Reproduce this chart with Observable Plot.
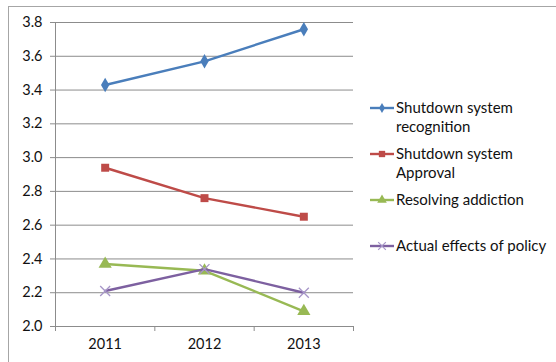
<!DOCTYPE html>
<html>
<head>
<meta charset="utf-8">
<script src="https://cdn.jsdelivr.net/npm/d3@7"></script>
<script src="https://cdn.jsdelivr.net/npm/@observablehq/plot@0.6"></script>
<style>
  html, body { margin: 0; padding: 0; background: #fff; }
  #wrap { position: relative; width: 556px; height: 362px; overflow: hidden; font-family: Lato, "Liberation Sans", sans-serif; }
  #frame { position: absolute; left: 8px; top: 6px; width: 560px; height: 400px; border-left: 1px solid #a6a6a6; border-top: 1px solid #a6a6a6; }
  #chart { position: absolute; left: 0; top: 0; }
  #legend { position: absolute; left: 370px; top: 0; font-size: 15px; color: #111; }
  .item { position: absolute; left: 0; display: flex; align-items: flex-start; white-space: nowrap; line-height: 19px; }
  .item svg { flex: none; margin-top: 2px; }
  .item span { margin-left: 2px; }
</style>
</head>
<body>
<div id="wrap">
  <div id="frame"></div>
  <div id="chart"></div>
  <div id="legend"></div>
</div>
<script>
// Categories and series
const years = ["2011", "2012", "2013"];
const recognition = [3.43, 3.57, 3.76];
const approval = [2.94, 2.76, 2.65];
const addiction = [2.37, 2.33, 2.09];
const policy = [2.21, 2.34, 2.20];
const yTicks = [2.0, 2.2, 2.4, 2.6, 2.8, 3.0, 3.2, 3.4, 3.6, 3.8];

const series = [
  {name: "Shutdown system recognition", lines: ["Shutdown system", "recognition"], values: recognition, color: "#4a7ebb", symbol: "diamond", fill: true, r: 4.4},
  {name: "Shutdown system Approval", lines: ["Shutdown system", "Approval"], values: approval, color: "#be4b48", symbol: "square", fill: true, r: 4.5},
  {name: "Resolving addiction", lines: ["Resolving addiction"], values: addiction, color: "#98b954", symbol: "triangle", fill: true, r: 4.9},
  {name: "Actual effects of policy", lines: ["Actual effects of policy"], values: policy, color: "#7d60a0", symbol: "times", fill: false, r: 4.6, markColor: "#a796c8"}
];

const rows = series.flatMap(s => s.values.map((v, i) => ({series: s.name, i, year: years[i], value: v})));
const idx = years.map((_, i) => i);
const bounds = d3.range(years.length + 1).map(i => i - 0.5);

const marks = [
  Plot.gridY(yTicks, {stroke: "#8c8c8c", strokeOpacity: 1, strokeWidth: 1}),
  Plot.ruleX([bounds[0]], {y1: yTicks[0], y2: yTicks[yTicks.length - 1], stroke: "#8c8c8c"}),
  Plot.axisY(yTicks, {tickFormat: d3.format(".1f"), tickSize: 5, tickPadding: 8, stroke: "#8c8c8c", fontSize: 14.5, fill: "#111", label: null}),
  Plot.axisX(bounds, {tickSize: 5, tickFormat: () => "", stroke: "#8c8c8c", label: null}),
  Plot.axisX(idx, {tickSize: 0, tickPadding: 12, tickFormat: i => years[i], fontSize: 14.5, fill: "#111", label: null})
];
for (const s of series) {
  const data = rows.filter(r => r.series === s.name);
  marks.push(Plot.line(data, {x: "i", y: "value", stroke: s.color, strokeWidth: 2.4}));
  marks.push(Plot.dot(data, {
    x: "i", y: "value", symbol: () => s.symbol, r: s.r,
    fill: s.fill ? s.color : "none",
    stroke: s.markColor || s.color, strokeWidth: s.fill ? 0 : 1.3
  }));
}

const chart = Plot.plot({
  width: 556,
  height: 362,
  marginLeft: 55,
  marginRight: 203,
  marginTop: 22,
  marginBottom: 36,
  style: {fontFamily: "Lato, 'Liberation Sans', sans-serif", background: "transparent", overflow: "visible"},
  x: {type: "linear", domain: [bounds[0], bounds[bounds.length - 1]], axis: null},
  y: {domain: [yTicks[0], yTicks[yTicks.length - 1]], axis: null},
  marks
});
document.getElementById("chart").appendChild(chart);

// Legend: line sample with marker, label text
const legendTops = [98, 144, 190, 236];
const legend = document.getElementById("legend");
series.forEach((s, k) => {
  const item = document.createElement("div");
  item.className = "item";
  item.style.top = legendTops[k] + "px";
  const sym = d3.symbol().type({diamond: d3.symbolDiamond, square: d3.symbolSquare, triangle: d3.symbolTriangle, times: d3.symbolTimes}[s.symbol]).size(s.symbol === "times" ? 40 : s.symbol === "diamond" ? 30 : 40)();
  item.innerHTML = `<svg width="24" height="16" viewBox="0 0 24 16">
      <line x1="0" x2="24" y1="8" y2="8" stroke="${s.color}" stroke-width="2.4"/>
      <path transform="translate(12,8)" d="${sym}" fill="${s.fill ? s.color : "none"}" stroke="${s.fill ? "none" : (s.markColor || s.color)}" stroke-width="1.2"/>
    </svg><span>${s.lines.join("<br>")}</span>`;
  legend.appendChild(item);
});
</script>
</body>
</html>
